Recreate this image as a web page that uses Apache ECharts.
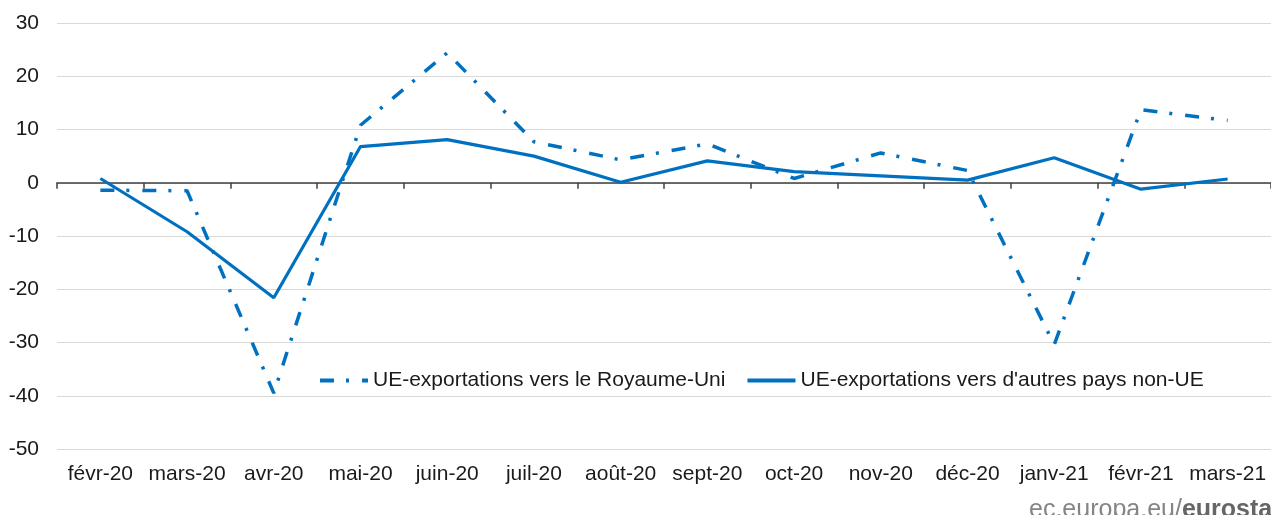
<!DOCTYPE html>
<html>
<head>
<meta charset="utf-8">
<script src="https://cdn.jsdelivr.net/npm/echarts@6/dist/echarts.min.js"></script>
<style>
  html, body { margin: 0; padding: 0; background: #fff; }
  #chart { width: 1271px; height: 515px; }
</style>
</head>
<body>
<div id="chart"></div>
<script>
// données
const months = ["févr-20", "mars-20", "avr-20", "mai-20", "juin-20", "juil-20", "août-20",
  "sept-20", "oct-20", "nov-20", "déc-20", "janv-21", "févr-21", "mars-21"];
const ukExports = [-1.4, -1.5, -39.5, 10.8, 24.4, 7.7, 4.3, 7.3, 0.8, 5.6, 2.3, -30.4, 13.7, 11.7];
const otherNonEu = [0.8, -9.2, -21.6, 6.8, 8.1, 5.0, 0.1, 4.1, 2.1, 1.3, 0.5, 4.7, -1.2, 0.7];
const seriesNames = ["UE-exportations vers le Royaume-Uni", "UE-exportations vers d'autres pays non-UE"];

const blue = "#0070C0";
const font = "Liberation Sans";

const myChart = echarts.init(document.getElementById("chart"));
myChart.setOption({
  animation: false,
  grid: { left: 57, top: 23, width: 1220, height: 426 },
  legend: {
    left: 318,
    top: 370,
    padding: 0,
    itemWidth: 48,
    itemHeight: 14,
    itemGap: 20,
    itemStyle: { opacity: 0 },
    lineStyle: { width: 4 },
    textStyle: { fontFamily: font, fontSize: 21, color: "#1a1a1a" },
    data: seriesNames
  },
  xAxis: [
    {
      type: "category",
      data: months,
      position: "bottom",
      axisLine: { show: false, onZero: false },
      axisTick: { show: false },
      axisLabel: { interval: 0, margin: 15, fontFamily: font, fontSize: 21, color: "#1a1a1a" }
    },
    {
      type: "category",
      data: months,
      position: "bottom",
      axisLine: { onZero: true, lineStyle: { color: "#404040", width: 1.5 } },
      axisTick: { show: true, length: 6, lineStyle: { color: "#404040", width: 1.5 } },
      axisLabel: { show: false }
    }
  ],
  yAxis: {
    type: "value",
    min: -50,
    max: 30,
    interval: 10,
    axisLine: { show: false },
    axisTick: { show: false },
    splitLine: { lineStyle: { color: "#d9d9d9", width: 1.2 } },
    axisLabel: { margin: 18, fontFamily: font, fontSize: 21, color: "#1a1a1a" }
  },
  series: [
    {
      name: seriesNames[0],
      type: "line",
      data: ukExports,
      symbol: "none",
      lineStyle: { color: blue, width: 3.5, type: [14, 12, 3, 13] },
      itemStyle: { color: blue }
    },
    {
      name: seriesNames[1],
      type: "line",
      data: otherNonEu,
      symbol: "none",
      lineStyle: { color: blue, width: 3.2 },
      itemStyle: { color: blue }
    }
  ],
  graphic: [
    {
      type: "text",
      left: 1029,
      top: 498,
      style: {
        text: "{n|ec.europa.eu/}{b|eurostat}",
        rich: {
          n: { fontFamily: font, fontSize: 25, fill: "#858585" },
          b: { fontFamily: font, fontSize: 25, fontWeight: "bold", fill: "#666666" }
        }
      }
    }
  ]
});
</script>
</body>
</html>
